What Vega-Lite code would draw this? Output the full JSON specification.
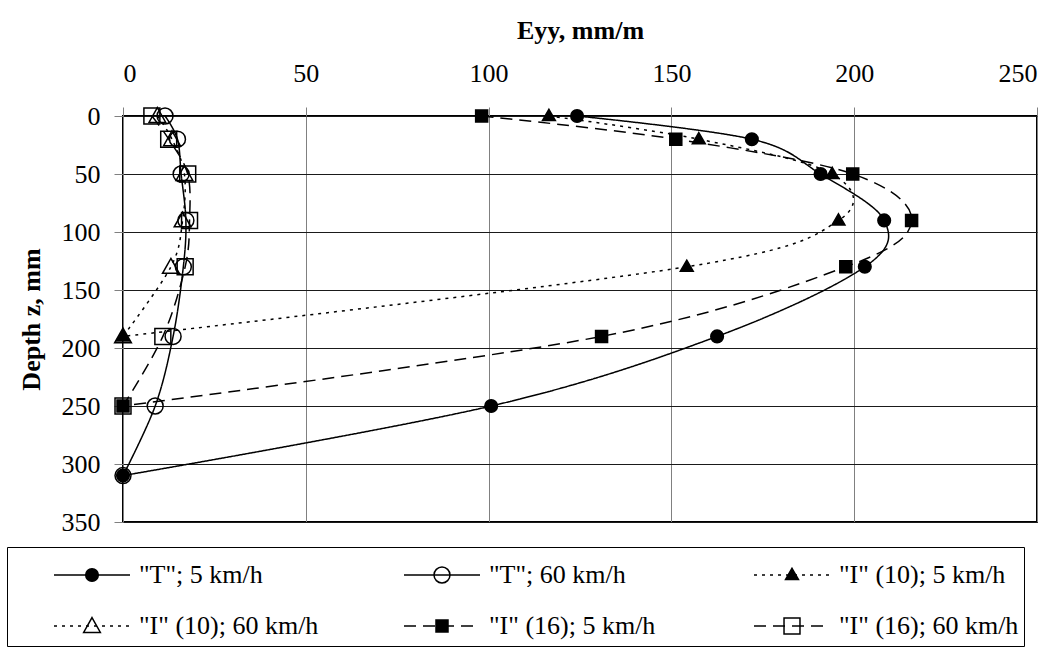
{
  "$schema": "https://vega.github.io/schema/vega-lite/v6.json",
  "width": 914,
  "height": 406,
  "autosize": {"type": "none"},
  "padding": {"left": 123, "top": 116, "right": 25, "bottom": 126},
  "background": "white",
  "config": {
    "view": {"stroke": "black", "strokeWidth": 2},
    "font": "Liberation Serif",
    "axis": {
      "labelFont": "Liberation Serif", "labelFontSize": 26, "labelColor": "black",
      "titleFont": "Liberation Serif", "titleFontSize": 26, "titleFontWeight": "bold", "titleColor": "black",
      "tickColor": "#808080", "tickSize": 9, "domain": false, "grid": true, "gridWidth": 1
    },
    "legend": {
      "orient": "none", "legendX": -116, "legendY": 431, "direction": "horizontal",
      "columns": 3, "gridAlign": "all", "columnPadding": 43, "rowPadding": 21, "clipHeight": 30,
      "symbolSize": 5776, "symbolStrokeWidth": 1.5, "symbolStrokeColor": "black",
      "symbolOffset": 41, "labelOffset": 8,
      "labelFont": "Liberation Serif", "labelFontSize": 26, "labelColor": "black", "labelLimit": 400,
      "padding": 5, "titleFontSize": 2, "titlePadding": 6
    }
  },
  "data": {
    "values": [
      {"s": "\"T\"; 5 km/h", "z": 0, "e": 124.2},
      {"s": "\"T\"; 5 km/h", "z": 20, "e": 172},
      {"s": "\"T\"; 5 km/h", "z": 50, "e": 190.8},
      {"s": "\"T\"; 5 km/h", "z": 90, "e": 208.2},
      {"s": "\"T\"; 5 km/h", "z": 130, "e": 202.9},
      {"s": "\"T\"; 5 km/h", "z": 190, "e": 162.5},
      {"s": "\"T\"; 5 km/h", "z": 250, "e": 100.7},
      {"s": "\"T\"; 5 km/h", "z": 310, "e": 0},
      {"s": "\"T\"; 60 km/h", "z": 0, "e": 11.5},
      {"s": "\"T\"; 60 km/h", "z": 20, "e": 14.9},
      {"s": "\"T\"; 60 km/h", "z": 50, "e": 15.9},
      {"s": "\"T\"; 60 km/h", "z": 90, "e": 17.2},
      {"s": "\"T\"; 60 km/h", "z": 130, "e": 16.5},
      {"s": "\"T\"; 60 km/h", "z": 190, "e": 13.7},
      {"s": "\"T\"; 60 km/h", "z": 250, "e": 8.8},
      {"s": "\"T\"; 60 km/h", "z": 310, "e": 0},
      {"s": "\"I\" (10); 5 km/h", "z": 0, "e": 116.5},
      {"s": "\"I\" (10); 5 km/h", "z": 20, "e": 157.5},
      {"s": "\"I\" (10); 5 km/h", "z": 50, "e": 194},
      {"s": "\"I\" (10); 5 km/h", "z": 90, "e": 195.7},
      {"s": "\"I\" (10); 5 km/h", "z": 130, "e": 154.2},
      {"s": "\"I\" (10); 5 km/h", "z": 190, "e": 0},
      {"s": "\"I\" (10); 60 km/h", "z": 0, "e": 9.4},
      {"s": "\"I\" (10); 60 km/h", "z": 20, "e": 13.4},
      {"s": "\"I\" (10); 60 km/h", "z": 50, "e": 16.8},
      {"s": "\"I\" (10); 60 km/h", "z": 90, "e": 16.3},
      {"s": "\"I\" (10); 60 km/h", "z": 130, "e": 13.1},
      {"s": "\"I\" (10); 60 km/h", "z": 190, "e": 0},
      {"s": "\"I\" (16); 5 km/h", "z": 0, "e": 98.1},
      {"s": "\"I\" (16); 5 km/h", "z": 20, "e": 151.2},
      {"s": "\"I\" (16); 5 km/h", "z": 50, "e": 199.6},
      {"s": "\"I\" (16); 5 km/h", "z": 90, "e": 215.7},
      {"s": "\"I\" (16); 5 km/h", "z": 130, "e": 197.7},
      {"s": "\"I\" (16); 5 km/h", "z": 190, "e": 130.9},
      {"s": "\"I\" (16); 5 km/h", "z": 250, "e": 0},
      {"s": "\"I\" (16); 60 km/h", "z": 0, "e": 7.9},
      {"s": "\"I\" (16); 60 km/h", "z": 20, "e": 12.5},
      {"s": "\"I\" (16); 60 km/h", "z": 50, "e": 17.7},
      {"s": "\"I\" (16); 60 km/h", "z": 90, "e": 18.2},
      {"s": "\"I\" (16); 60 km/h", "z": 130, "e": 17},
      {"s": "\"I\" (16); 60 km/h", "z": 190, "e": 10.9},
      {"s": "\"I\" (16); 60 km/h", "z": 250, "e": 0}
    ]
  },
  "encoding": {
    "x": {
      "field": "e", "type": "quantitative",
      "scale": {"domain": [0, 250], "nice": false},
      "axis": {"orient": "top", "values": [0, 50, 100, 150, 200, 250], "title": "Eyy, mm/m", "labelPadding": 21, "titlePadding": 17, "gridColor": "#808080"}
    },
    "y": {
      "field": "z", "type": "quantitative",
      "scale": {"domain": [0, 350], "reverse": true, "nice": false},
      "axis": {"values": [0, 50, 100, 150, 200, 250, 300, 350], "title": "Depth z, mm", "labelPadding": 14, "titlePadding": 17, "gridColor": "#1a1a1a"}
    }
  },
  "layer": [
    {
      "mark": {"type": "line", "interpolate": "cardinal", "tension": 0, "strokeWidth": 1.5, "color": "black"},
      "encoding": {
        "order": {"field": "z", "type": "quantitative"},
        "strokeDash": {
          "field": "s", "type": "nominal",
          "sort": ["\"T\"; 5 km/h", "\"T\"; 60 km/h", "\"I\" (10); 5 km/h", "\"I\" (10); 60 km/h", "\"I\" (16); 5 km/h", "\"I\" (16); 60 km/h"],
          "scale": {"range": [[1, 0], [1, 0], [3, 5], [3, 5], [12, 7], [12, 7]]},
          "legend": {"symbolType": "stroke", "strokeColor": "black", "title": " "}
        }
      }
    },
    {
      "mark": {"type": "point", "filled": true, "opacity": 1, "size": 5776, "strokeWidth": 1.5},
      "encoding": {
        "shape": {
          "field": "s", "type": "nominal",
          "scale": {
            "domain": ["\"T\"; 5 km/h", "\"T\"; 60 km/h", "\"I\" (10); 5 km/h", "\"I\" (10); 60 km/h", "\"I\" (16); 5 km/h", "\"I\" (16); 60 km/h"],
            "range": [
              "M0.166,0A0.166,0.166,0,1,1,-0.166,0A0.166,0.166,0,1,1,0.166,0Z",
              "M0.21,0A0.21,0.21,0,1,1,-0.21,0A0.21,0.21,0,1,1,0.21,0Z",
              "M0,-0.175L0.17,0.12L-0.17,0.12Z",
              "M0,-0.22L0.22,0.17L-0.22,0.17Z",
              "M-0.158,-0.158L0.158,-0.158L0.158,0.158L-0.158,0.158Z",
              "M-0.21,-0.21L0.21,-0.21L0.21,0.21L-0.21,0.21Z"
            ]
          },
          "legend": {"labelOpacity": 0, "title": " "}
        },
        "fill": {
          "field": "s", "type": "nominal",
          "scale": {
            "domain": ["\"T\"; 5 km/h", "\"T\"; 60 km/h", "\"I\" (10); 5 km/h", "\"I\" (10); 60 km/h", "\"I\" (16); 5 km/h", "\"I\" (16); 60 km/h"],
            "range": ["black", "transparent", "black", "transparent", "black", "transparent"]
          },
          "legend": {"labelOpacity": 0, "title": " "}
        },
        "stroke": {
          "field": "s", "type": "nominal",
          "scale": {
            "domain": ["\"T\"; 5 km/h", "\"T\"; 60 km/h", "\"I\" (10); 5 km/h", "\"I\" (10); 60 km/h", "\"I\" (16); 5 km/h", "\"I\" (16); 60 km/h"],
            "range": ["black", "black", "black", "black", "black", "black"]
          },
          "legend": {"labelOpacity": 0, "title": " "}
        }
      }
    }
  ]
}
